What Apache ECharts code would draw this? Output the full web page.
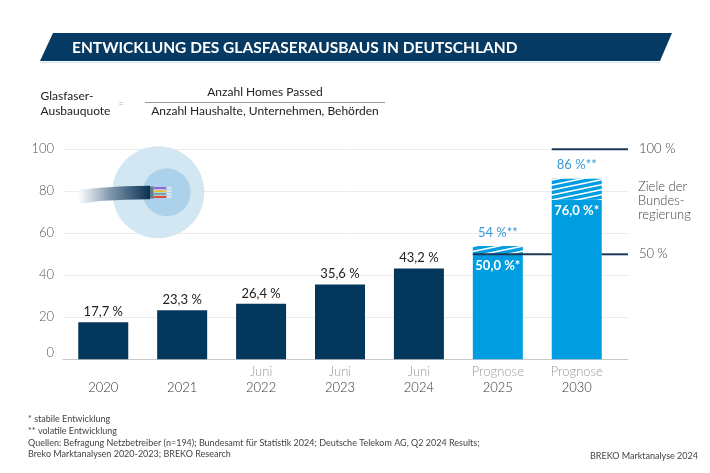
<!DOCTYPE html>
<html>
<head>
<meta charset="utf-8">
<script src="https://cdn.jsdelivr.net/npm/echarts@6/dist/echarts.min.js"></script>
<style>
  html, body { margin: 0; padding: 0; background: #fff; }
  #main { width: 710px; height: 473px; }
</style>
</head>
<body>
<div id="main"></div>
<script>
// Daten: Glasfaser-Ausbauquote in Prozent
const years = ["2020", "2021", "2022", "2023", "2024", "2025", "2030"];
const yearNotes = ["", "", "Juni", "Juni", "Juni", "Prognose", "Prognose"];
const quote = [17.7, 23.3, 26.4, 35.6, 43.2, 50.0, 76.0];
const quoteUpper = [null, null, null, null, null, 54, 86];
const isForecast = [false, false, false, false, false, true, true];
const targets = [100, 50];

const NAVY = "#04375c";
const BLUE = "#009ee0";
const FONT = "Lato, 'Noto Sans', sans-serif";
const LIGHT = 300;

// Schraffur fuer den volatilen Anteil
const hatch = (() => {
	const c = document.createElement("canvas");
	const w = 24, h = 5;
	c.width = w; c.height = h;
	const ctx = c.getContext("2d");
	ctx.fillStyle = BLUE;
	ctx.fillRect(0, 0, w, h);
	ctx.strokeStyle = "#ffffff";
	ctx.lineWidth = 1.6;
	[-1, 0, 1].forEach((k) => {
		ctx.beginPath();
		ctx.moveTo(0, h + k * h);
		ctx.lineTo(w, k * h);
		ctx.stroke();
	});
	return c;
})();

const fmt = (v) => v.toFixed(1).replace(".", ",") + " %";

const baseData = quote.map((v, i) => ({
	value: v,
	itemStyle: { color: isForecast[i] ? BLUE : NAVY },
	label: isForecast[i]
		? { position: "insideTop", distance: 5, color: "#fff", fontWeight: "bold", formatter: fmt(v) + "*" }
		: { position: "top", distance: 4, color: "#222", formatter: fmt(v) }
}));
const hatchData = quoteUpper.map((u, i) => (u == null ? null : +(u - quote[i]).toFixed(1)));

const chart = echarts.init(document.getElementById("main"));

const option = {
	animation: false,
	backgroundColor: "#fff",
	textStyle: { fontFamily: FONT },
	grid: [
		{ left: 63.8, width: 552.4, top: 149.3, height: 210 },
		{ left: 63, width: 565, top: 149.3, height: 210 }
	],
	xAxis: [
		{
			type: "category", gridIndex: 0, data: years,
			axisLine: { show: false }, axisTick: { show: false },
			axisLabel: {
				margin: 5, interval: 0,
				formatter: (v, i) => "{a|" + (yearNotes[i] || " ") + "}\n{b|" + v + "}",
				rich: {
					a: { color: "#9a9a9a", fontSize: 13, lineHeight: 16, fontWeight: LIGHT, fontFamily: FONT },
					b: { color: "#333", fontSize: 13, lineHeight: 16, fontWeight: LIGHT, fontFamily: FONT }
				}
			}
		},
		{
			type: "category", gridIndex: 1, data: [""],
			axisLine: { show: true, lineStyle: { color: "#c9c9c9", width: 1 } },
			axisTick: { show: false }, axisLabel: { show: false }
		}
	],
	yAxis: [
		{ type: "value", gridIndex: 0, min: 0, max: 100, interval: 20, show: false },
		{
			type: "value", gridIndex: 1, min: 0, max: 100, interval: 20,
			axisLine: { show: false }, axisTick: { show: false },
			splitLine: { lineStyle: { color: "#ececec", width: 1 } },
			axisLabel: {
				margin: 9, color: "#555", fontSize: 13, fontWeight: LIGHT, fontFamily: FONT,
				formatter: (v) => (v === 0 ? "{z|0}" : String(v)),
				rich: { z: { color: "#555", fontSize: 13, fontWeight: LIGHT, padding: [0, 0, 13, 0], fontFamily: FONT } }
			}
		}
	],
	series: [
		{
			type: "bar", name: "stabil", xAxisIndex: 0, yAxisIndex: 0, stack: "q",
			barWidth: 50, data: baseData, z: 3,
			label: { show: true, fontSize: 13, fontFamily: FONT }
		},
		{
			type: "bar", name: "volatil", xAxisIndex: 0, yAxisIndex: 0, stack: "q",
			barWidth: 50, data: hatchData, z: 3,
			itemStyle: { color: { image: hatch, repeat: "repeat" } },
			label: {
				show: true, position: "top", distance: 7, color: "#3a9ad8",
				fontSize: 13, fontFamily: FONT,
				formatter: (p) => quoteUpper[p.dataIndex] + " %**"
			}
		}
	]
};
chart.setOption(option);

//-----------------------------Zusatzgrafik-----------------------------//

const gridRight = 63 + 565;
const barHalf = 25;
const p25 = chart.convertToPixel({ gridIndex: 0 }, ["2025", targets[1]]);
const p30 = chart.convertToPixel({ gridIndex: 0 }, ["2030", targets[0]]);
const lineStyle = { stroke: "#1c3a57", lineWidth: 2 };

const txt = (x, y, text, extra) => ({
	type: "text", x: x, y: y, z: 10,
	style: Object.assign({
		text: text, fill: "#333", fontSize: 12, fontFamily: FONT,
		textVerticalAlign: "middle", textAlign: "left"
	}, extra || {})
});
const note = { fill: "#444", fontSize: 13, fontWeight: LIGHT };
const foot = { fill: "#444", fontSize: 9 };

const graphics = [
	// Titelband
	{ type: "polygon", z: 5, shape: { points: [[53, 33], [672, 33], [660, 61], [40, 61]] }, style: { fill: "#063a62" } },
	{ type: "line", z: 5, shape: { x1: 40, y1: 62.5, x2: 660, y2: 62.5 }, style: { stroke: "#d3e3ef", lineWidth: 1 } },
	txt(72, 47.5, "ENTWICKLUNG DES GLASFASERAUSBAUS IN DEUTSCHLAND", { fill: "#fff", fontSize: 15.5, fontWeight: "bold" }),

	// Formel
	txt(40.5, 96.5, "Glasfaser-", { fill: "#222" }),
	txt(40.5, 111.5, "Ausbauquote", { fill: "#222" }),
	txt(121, 104, "=", { fill: "#aaa", fontSize: 9, textAlign: "center" }),
	{ type: "line", z: 5, shape: { x1: 145, y1: 102.5, x2: 385, y2: 102.5 }, style: { stroke: "#999", lineWidth: 1 } },
	txt(265, 92, "Anzahl Homes Passed", { fill: "#222", textAlign: "center" }),
	txt(265, 111.5, "Anzahl Haushalte, Unternehmen, Behörden", { fill: "#222", textAlign: "center" }),

	// Glasfaser-Symbol
	{ type: "circle", z: 4, shape: { cx: 158.3, cy: 192.3, r: 46 }, style: { fill: "#d3e7f3" } },
	{ type: "circle", z: 4, shape: { cx: 166.7, cy: 192.3, r: 24 }, style: { fill: "#abd2ea" } },
	{
		type: "polygon", z: 5,
		shape: { points: [[78, 190], [100, 187.8], [125, 186.3], [150, 185.7], [150, 199.3], [125, 199.8], [100, 201], [78, 204]] },
		style: {
			fill: {
				type: "linear", x: 0, y: 0, x2: 1, y2: 0,
				colorStops: [
					{ offset: 0, color: "rgba(255,255,255,0.9)" },
					{ offset: 0.45, color: "#7f97ad" },
					{ offset: 1, color: "#0a3152" }
				]
			}
		}
	},
	{ type: "rect", z: 5, shape: { x: 150, y: 186.5, width: 3.5, height: 12 }, style: { fill: "#61788e" } },
	{ type: "rect", z: 5, shape: { x: 153.5, y: 187, width: 13, height: 2 }, style: { fill: "#9b5fd6" } },
	{ type: "rect", z: 5, shape: { x: 153.5, y: 190, width: 13, height: 2 }, style: { fill: "#e6c24d" } },
	{ type: "rect", z: 5, shape: { x: 153.5, y: 193, width: 13, height: 2 }, style: { fill: "#7fa391" } },
	{ type: "rect", z: 5, shape: { x: 153.5, y: 196, width: 13, height: 2 }, style: { fill: "#e2473c" } },
	{ type: "rect", z: 5, shape: { x: 166.5, y: 187.5, width: 5, height: 1 }, style: { fill: "#fff" } },
	{ type: "rect", z: 5, shape: { x: 166.5, y: 190.5, width: 5, height: 1 }, style: { fill: "#fff" } },
	{ type: "rect", z: 5, shape: { x: 166.5, y: 193.5, width: 5, height: 1 }, style: { fill: "#fff" } },
	{ type: "rect", z: 5, shape: { x: 166.5, y: 196.5, width: 5, height: 1 }, style: { fill: "#fff" } },

	// Ziellinien
	{ type: "line", z: 6, shape: { x1: p25[0] - barHalf, y1: p25[1], x2: p30[0] - barHalf, y2: p25[1] }, style: lineStyle },
	{ type: "line", z: 6, shape: { x1: p30[0] + barHalf, y1: p25[1], x2: gridRight, y2: p25[1] }, style: lineStyle },
	{ type: "line", z: 6, shape: { x1: p30[0] - barHalf, y1: p30[1], x2: gridRight, y2: p30[1] }, style: lineStyle },
	txt(639, p30[1], targets[0] + " %", note),
	txt(639, p25[1], targets[1] + " %", note),
	txt(638, 187, "Ziele der", note),
	txt(638, 201, "Bundes-", note),
	txt(638, 215, "regierung", note),

	// Fussnoten
	txt(28, 419, "* stabile Entwicklung", foot),
	txt(28, 431, "** volatile Entwicklung", foot),
	txt(28, 443, "Quellen: Befragung Netzbetreiber (n=194); Bundesamt für Statistik 2024; Deutsche Telekom AG, Q2 2024 Results;", foot),
	txt(28, 454, "Breko Marktanalysen 2020-2023; BREKO Research", foot),
	txt(698, 456, "BREKO Marktanalyse 2024", Object.assign({ textAlign: "right" }, foot))
];

chart.setOption({ graphic: { elements: graphics } });
</script>
</body>
</html>
